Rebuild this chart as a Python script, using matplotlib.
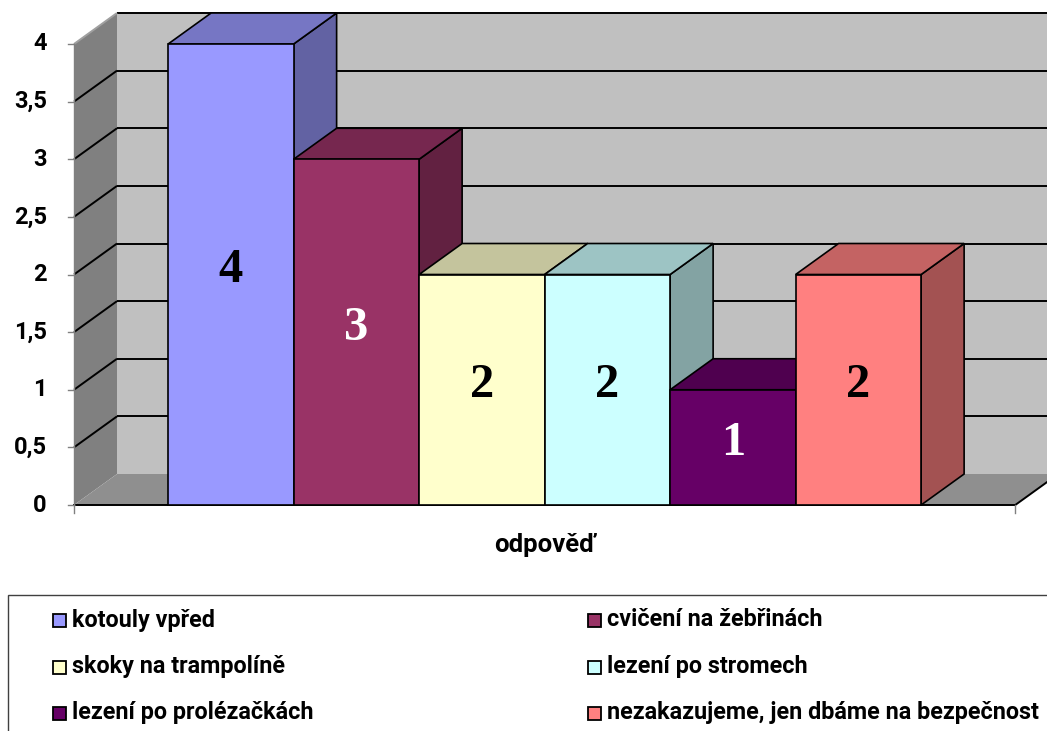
import matplotlib
matplotlib.use("Agg")
import matplotlib.pyplot as plt
from matplotlib.patches import Polygon, Rectangle
from matplotlib.colors import to_rgb

# ---- data -------------------------------------------------------------
categories = ["kotouly vpřed", "cvičení na žebřinách", "skoky na trampolíně",
              "lezení po stromech", "lezení po prolézačkách",
              "nezakazujeme, jen dbáme na bezpečnost"]
values = [4, 3, 2, 2, 1, 2]
colors = ["#9999FF", "#993366", "#FFFFCC", "#CCFFFF", "#660066", "#FF8080"]
label_colors = ["black", "white", "black", "black", "white", "black"]
yticks = [0, 0.5, 1, 1.5, 2, 2.5, 3, 3.5, 4]
ytick_labels = ["0", "0,5", "1", "1,5", "2", "2,5", "3", "3,5", "4"]
axis_title = "odpověď"

# ---- figure / coordinate frame ----------------------------------------
W, H = 1047, 731
fig = plt.figure(figsize=(W / 100, H / 100), dpi=100)
ax = fig.add_axes([0, 0, 1, 1])
ax.axis("off")

# front plane origin in pixels and scale (one bar width / one value unit)
x0_px, y0_px = 74, 505
sx, sy = 125.5, 115.25
ax.set_xlim(-x0_px / sx, (W - x0_px) / sx)
ax.set_ylim(-(H - y0_px) / sy, y0_px / sy)

gap = 0.75
span = len(values) + 2 * gap
ymax = yticks[-1]
dx, dy = 43 / sx, 31 / sy          # depth offset of the 3-D box

TICK_FONT = dict(family="Roboto", weight="bold", fontsize=17)
TITLE_FONT = dict(family="Roboto", weight="bold", fontsize=18.5)
LEG_FONT = dict(family="Roboto", weight="bold", fontsize=16.8)


def shade(c, f):
    r, g, b = to_rgb(c)
    return (r * f, g * f, b * f)


# ---- walls and floor ---------------------------------------------------
ax.add_patch(Polygon([(dx, dy), (span + dx, dy), (span + dx, ymax + dy), (dx, ymax + dy)],
                     closed=True, fc="#C0C0C0", ec="none", zorder=1))
ax.add_patch(Polygon([(0, 0), (dx, dy), (dx, ymax + dy), (0, ymax)],
                     closed=True, fc="#808080", ec="none", zorder=1))
ax.add_patch(Polygon([(0, 0), (span, 0), (span + dx, dy), (dx, dy)],
                     closed=True, fc="#8F8F8F", ec="none", zorder=1))

for t in yticks[1:]:
    ax.plot([dx, span + dx], [t + dy, t + dy], color="black", lw=1.4, zorder=2,
            solid_capstyle="butt")
    ax.plot([0, dx], [t, t + dy], color="black" if t < ymax else "#A0A0A0",
            lw=1.4, zorder=2, solid_capstyle="butt")

# axes lines and ticks
ax.plot([0, span], [0, 0], color="black", lw=1.4, zorder=2)
ax.plot([span, span + dx], [0, dy], color="black", lw=1.4, zorder=2)
ax.plot([0, 0], [0, ymax], color="#808080", lw=1.0, zorder=2)
for t, lab in zip(yticks, ytick_labels):
    ax.plot([-6 / sx, 0], [t, t], color="#808080", lw=1.0, zorder=2)
    ax.text(-27 / sx, t, lab, ha="right", va="center", color="black", **TICK_FONT)
for xx in (0, span):
    ax.plot([xx, xx], [0, -8 / sy], color="#808080", lw=1.0, zorder=2)

ax.annotate(axis_title, xy=(span / 2, 0), xytext=(0, -29), textcoords="offset points",
            ha="center", va="center", **TITLE_FONT)

# ---- 3-D columns -------------------------------------------------------
for i, (v, c, lc) in enumerate(zip(values, colors, label_colors)):
    x0 = gap + i
    x1 = x0 + 1
    z = 3 + i
    ax.add_patch(Polygon([(x1, 0), (x1 + dx, dy), (x1 + dx, v + dy), (x1, v)],
                         closed=True, fc=shade(c, 0.64), ec="black", lw=1.2,
                         joinstyle="miter", zorder=z))
    ax.add_patch(Polygon([(x0, v), (x0 + dx, v + dy), (x1 + dx, v + dy), (x1, v)],
                         closed=True, fc=shade(c, 0.77), ec="black", lw=1.2,
                         joinstyle="miter", zorder=z))
    ax.add_patch(Rectangle((x0, 0), 1, v, fc=c, ec="black", lw=1.2,
                           joinstyle="miter", zorder=z))
    ax.text(x0 + 0.5, v / 2 + 0.04, f"{v}", ha="center", va="center", color=lc,
            family="Liberation Serif", weight="bold", fontsize=35, zorder=20)

# ---- legend (frame runs past the right and bottom edges) ---------------
tf = fig.transFigure


def fx(px):
    return px / W


def fy(py):
    return 1 - py / H


fig.patches.append(Rectangle((fx(8), fy(H + 20)), fx(W + 20) - fx(8), fy(595) - fy(H + 20),
                             transform=tf, fill=False, ec="#404040", lw=1.0))
col_x = [53, 588]
row_y = [620, 667, 713]
msize = 13
for k, (name, c) in enumerate(zip(categories, colors)):
    mx = col_x[k % 2]
    my = row_y[k // 2]
    fig.patches.append(Rectangle((fx(mx), fy(my + msize / 2)), msize / W, msize / H,
                                 transform=tf, fc=c, ec="black", lw=1.3))
    fig.text(fx(mx + 19), fy(my), name, ha="left", va="center", **LEG_FONT)

fig.savefig("out.png", dpi=100)
